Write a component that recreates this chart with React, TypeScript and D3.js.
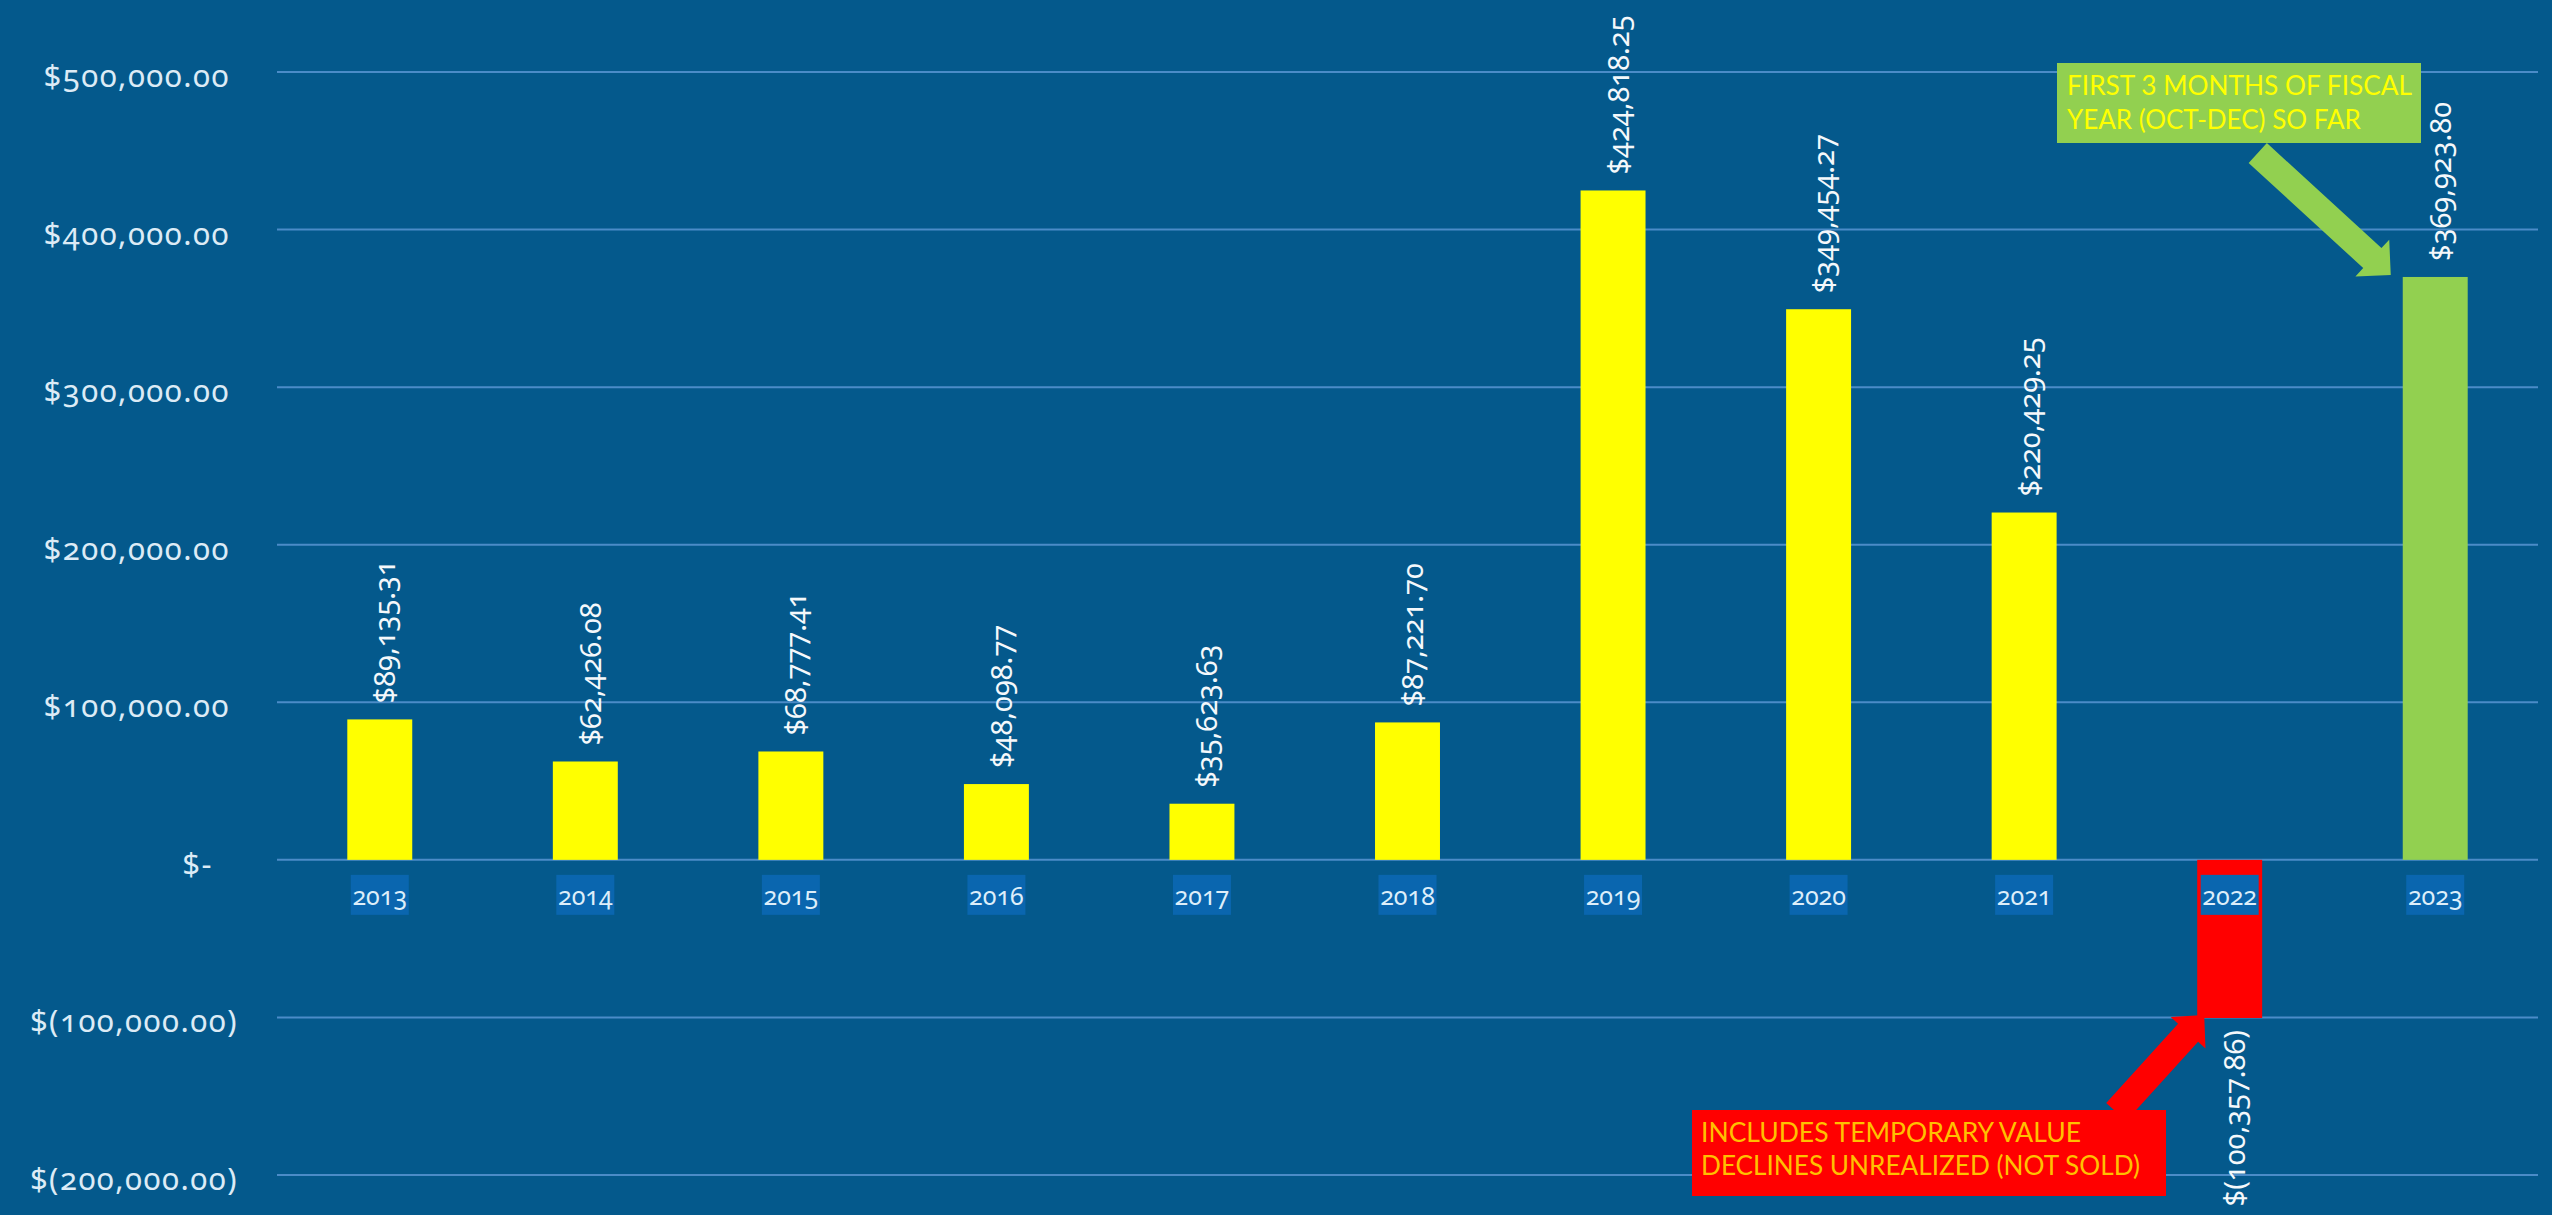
import React from 'react';
import * as d3 from 'd3';

// ---- data ----
const categories = ['2013', '2014', '2015', '2016', '2017', '2018', '2019', '2020', '2021', '2022', '2023'];
const values = [89135.31, 62426.08, 68777.41, 48098.77, 35623.63, 87221.7, 424818.25, 349454.27, 220429.25, -100357.86, 369923.8];
const barColors = ['#FFFF00', '#FFFF00', '#FFFF00', '#FFFF00', '#FFFF00', '#FFFF00', '#FFFF00', '#FFFF00', '#FFFF00', '#FF0000', '#92D050'];
const yTicks = [-200000, -100000, 0, 100000, 200000, 300000, 400000, 500000];
const greenNote = ['FIRST 3 MONTHS OF FISCAL', 'YEAR (OCT-DEC) SO FAR'];
const redNote = ['INCLUDES TEMPORARY VALUE', 'DECLINES UNREALIZED (NOT SOLD)'];

const W = 2552;
const H = 1215;
const BG = '#04598C';
const GRID = '#4B8CC8';
const FONT = 'Lato, "Open Sans", sans-serif';
const NUMFONT = '"Noto Sans", Lato, sans-serif';

const fmtNum = d3.format(',.2f');
const money = (v: number) => (v === 0 ? '$-' : v < 0 ? `$(${fmtNum(-v)})` : `$${fmtNum(v)}`);

function arrowPoints(tail: [number, number], tip: [number, number], w: number, hw: number, hl: number) {
  const dx = tip[0] - tail[0];
  const dy = tip[1] - tail[1];
  const len = Math.hypot(dx, dy);
  const ux = dx / len, uy = dy / len;
  const px = -uy, py = ux;
  const bx = tip[0] - ux * hl, by = tip[1] - uy * hl;
  const pts: [number, number][] = [
    [tail[0] + px * w / 2, tail[1] + py * w / 2],
    [bx + px * w / 2, by + py * w / 2],
    [bx + px * hw / 2, by + py * hw / 2],
    tip,
    [bx - px * hw / 2, by - py * hw / 2],
    [bx - px * w / 2, by - py * w / 2],
    [tail[0] - px * w / 2, tail[1] - py * w / 2],
  ];
  return pts.map((p) => p.join(',')).join(' ');
}

export default function App() {
  const x = d3.scaleBand<string>().domain(categories).range([277, 2538]).paddingInner(0.684).paddingOuter(0.342);
  const y = d3.scaleLinear().domain([-200000, 500000]).range([1175, 72]);
  const bw = x.bandwidth();
  const cx = (c: string) => (x(c) as number) + bw / 2;

  const gi = categories.indexOf('2023');
  const ri = categories.indexOf('2022');
  const greenTip: [number, number] = [(x('2023') as number) - 12, y(values[gi]) - 2];
  const greenTail: [number, number] = [greenTip[0] - 133, greenTip[1] - 122];
  const redTip: [number, number] = [(x('2022') as number) + 7, y(values[ri]) - 3];
  const redTail: [number, number] = [redTip[0] - 88, redTip[1] + 97];

  const numStyle: React.CSSProperties = { fontVariantNumeric: 'oldstyle-nums', fontFeatureSettings: '"onum" 1' };

  return (
    <svg width={W} height={H} style={{ position: 'absolute', left: 0, top: 0, display: 'block' }} fontFamily={FONT}>
      <rect x={0} y={0} width={W} height={H} fill={BG} />
      {/* gridlines */}
      {yTicks.map((t) => (
        <line key={`g${t}`} x1={277} x2={2538} y1={y(t)} y2={y(t)} stroke={GRID} strokeWidth={2} />
      ))}
      {/* y labels */}
      {yTicks.map((t) => (
        <text
          key={`yl${t}`}
          x={t === 0 ? 213 : t < 0 ? 238 : 230}
          y={y(t) + 3}
          textAnchor="end"
          dominantBaseline="central"
          fontSize={31}
          letterSpacing={1.5}
          fontFamily={NUMFONT}
          fill="#DCEBF6"
          style={numStyle}
        >
          {money(t)}
        </text>
      ))}
      {/* bars */}
      {categories.map((c, i) => (
        <rect
          key={`b${c}`}
          x={x(c)}
          width={bw}
          y={Math.min(y(values[i]), y(0))}
          height={Math.abs(y(values[i]) - y(0))}
          fill={barColors[i]}
        />
      ))}
      {/* x labels */}
      {categories.map((c) => (
        <g key={`xl${c}`}>
          <rect x={cx(c) - 29} y={y(0) + 15} width={58} height={40} fill="#0A66AF" />
          <text
            x={cx(c)}
            y={y(0) + 35}
            textAnchor="middle"
            dominantBaseline="central"
            fontSize={25}
            fontFamily={NUMFONT}
            fill="#DDEEFA"
            style={numStyle}
          >
            {c}
          </text>
        </g>
      ))}
      {/* data labels */}
      {categories.map((c, i) => {
        const v = values[i];
        const ly = v >= 0 ? y(v) - 16 : y(v) + 12;
        return (
          <text
            key={`dl${c}`}
            transform={`translate(${cx(c) + 4},${ly}) rotate(-90)`}
            textAnchor={v >= 0 ? 'start' : 'end'}
            dominantBaseline="central"
            fontSize={29}
            fontFamily={NUMFONT}
            fill="#F4F8FB"
            style={numStyle}
          >
            {money(v)}
          </text>
        );
      })}
      {/* annotations */}
      <polygon points={arrowPoints(greenTail, greenTip, 27, 50, 25)} fill="#92D050" />
      <rect x={2057} y={63} width={364} height={80} fill="#92D050" />
      {greenNote.map((s, i) => (
        <text key={`gn${i}`} x={2067} y={95 + i * 34} fontSize={26} fill="#FFFF00" textLength={i === 0 ? 345 : undefined} lengthAdjust="spacingAndGlyphs">
          {s}
        </text>
      ))}
      <polygon points={arrowPoints(redTail, redTip, 27, 47, 24)} fill="#FF0000" />
      <rect x={1692} y={1110} width={474} height={86} fill="#FF0000" />
      {redNote.map((s, i) => (
        <text key={`rn${i}`} x={1701} y={1142 + i * 33} fontSize={27} fill="#FFC000" textLength={i === 0 ? 380 : 439} lengthAdjust="spacingAndGlyphs">
          {s}
        </text>
      ))}
    </svg>
  );
}
